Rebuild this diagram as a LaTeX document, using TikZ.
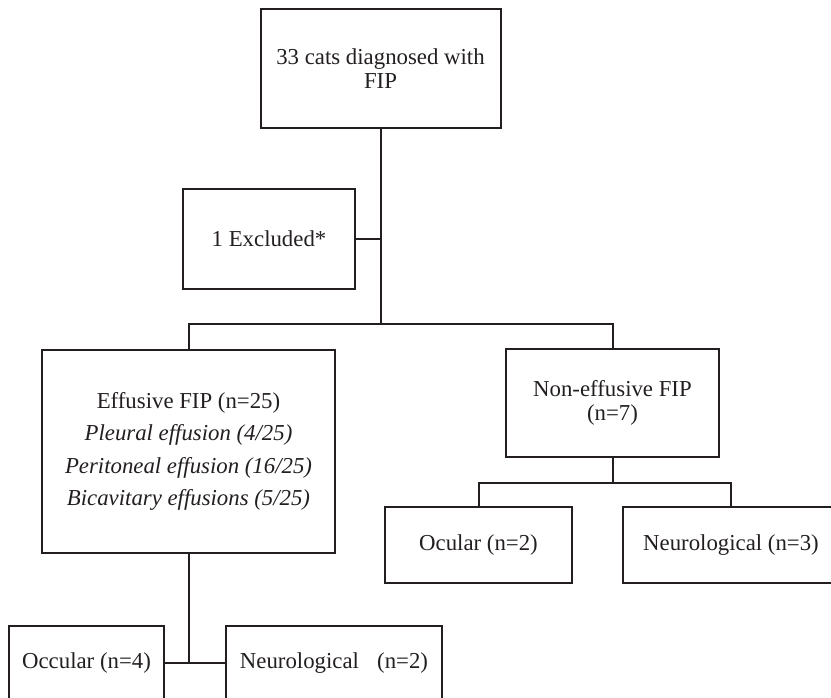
\documentclass[tikz,border=0pt]{standalone}
\usepackage{fontspec}
\setmainfont{Liberation Serif}
\definecolor{ink}{RGB}{35,31,32}
\begin{document}
\begin{tikzpicture}[x=1pt,y=-1pt,
  box/.style={draw=ink, line width=2pt, inner sep=0pt, align=center,
    font=\fontsize{22.8}{24}\selectfont, text=ink},
  link/.style={draw=ink, line width=2pt}]
\clip (0,0) rectangle (831,697);
\fill[white] (0,0) rectangle (831,697);
\node[box, minimum width=240pt, minimum height=119pt] (top) at (380.5,68.5) {33 cats diagnosed with\\FIP};
\node[box, minimum width=172pt, minimum height=100pt] (excl) at (269,239) {1 Excluded*};
\node[box, minimum width=293pt, minimum height=203pt,
  font=\fontsize{22.8}{32.5}\selectfont] (eff) at (188.5,451.5)
  {Effusive FIP (n=25)\\\textit{Pleural effusion (4/25)}\\\textit{Peritoneal effusion (16/25)}\\\textit{Bicavitary effusions (5/25)}};
\node[box, minimum width=213pt, minimum height=108pt] (non) at (612.5,403) {Non-effusive FIP\\(n=7)};
\node[box, minimum width=187pt, minimum height=76pt] (oc2) at (478.5,545) {Ocular (n=2)};
\node[box, minimum width=216pt, minimum height=76pt] (ne3) at (731,545) {Neurological (n=3)};
\node[box, minimum width=155pt, minimum height=74pt] (oc4) at (86.5,663) {Occular (n=4)};
\node[box, minimum width=216pt, minimum height=74pt] (ne2) at (334,663) {Neurological\hspace{0.55em} (n=2)};
\coordinate (j1) at (380.5,324);
\coordinate (j2) at (612.5,483);
\coordinate (j3) at (188.5,663);
\draw[link] (top.south) -- (j1);
\draw[link] (excl.east) -- (excl.east -| j1);
\draw[link] (eff.north) |- (j1) -| (non.north);
\draw[link] (non.south) -- (j2);
\draw[link] (oc2.north) |- (j2) -| (ne3.north);
\draw[link] (eff.south) -- (j3);
\draw[link] (oc4.east) -- (ne2.west);
\end{tikzpicture}
\end{document}
